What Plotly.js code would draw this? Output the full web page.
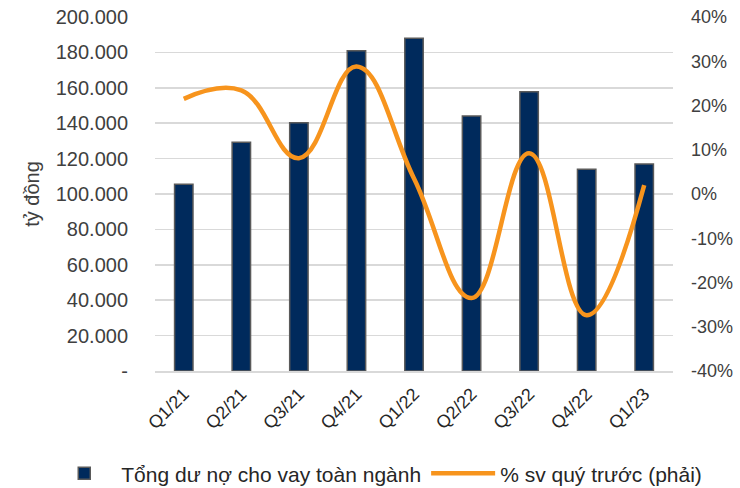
<!DOCTYPE html>
<html>
<head>
<meta charset="utf-8">
<script src="https://cdn.plot.ly/plotly-3.0.1.min.js"></script>
<style>html,body{margin:0;padding:0;background:#fff;}#chart{width:740px;height:488px;}</style>
</head>
<body>
<div id="chart"></div>
<script>
const quarters = ["Q1/21","Q2/21","Q3/21","Q4/21","Q1/22","Q2/22","Q3/22","Q4/22","Q1/23"];
const loans = [105500, 129300, 140200, 181000, 188000, 144000, 157700, 114000, 117000];
const qoqChange = [0.215, 0.234, 0.081, 0.288, 0.035, -0.235, 0.092, -0.274, 0.020];
const leftTickVals = [0,20000,40000,60000,80000,100000,120000,140000,160000,180000,200000];
const leftTickText = ["-","20.000","40.000","60.000","80.000","100.000","120.000","140.000","160.000","180.000","200.000"];
const rightTickVals = [-0.4,-0.3,-0.2,-0.1,0,0.1,0.2,0.3,0.4];
const rightTickText = ["-40%","-30%","-20%","-10%","0%","10%","20%","30%","40%"];

const font = "Liberation Sans, Arial, sans-serif";
const traces = [
  {
    type: "bar", x: quarters, y: loans, name: "Tổng dư nợ cho vay toàn ngành",
    marker: {color: "#002a5c", line: {color: "#5a5a5a", width: 1.5}},
    yaxis: "y"
  },
  {
    type: "scatter", mode: "lines", x: quarters, y: qoqChange, name: "% sv quý trước (phải)",
    line: {color: "#f7941d", width: 4.5, shape: "spline", smoothing: 1.2},
    yaxis: "y2"
  }
];
const layout = {
  width: 740, height: 488,
  margin: {l: 155, r: 67, t: 17, b: 117, autoexpand: false},
  paper_bgcolor: "#fff", plot_bgcolor: "#fff",
  font: {family: font, color: "#404040", size: 18},
  bargap: 0.68,
  showlegend: true,
  legend: {orientation: "h", xref: "paper", yref: "paper", x: -0.208, xanchor: "left", y: -0.29, yanchor: "middle",
           font: {size: 21, color: "#262626"}, itemwidth: 64, tracegroupgap: 0, bgcolor: "rgba(0,0,0,0)"},
  xaxis: {
    type: "category", tickangle: -45, tickfont: {size: 18, color: "#262626"}, ticklabelstandoff: 4,
    showgrid: false, showline: true, linecolor: "#d9d9d9", linewidth: 1.5, ticks: "", fixedrange: true
  },
  yaxis: {
    range: [0, 200000], tickvals: leftTickVals, ticktext: leftTickText,
    showgrid: true, gridcolor: "#d9d9d9", gridwidth: 1.5, zeroline: false,
    tickfont: {size: 20, color: "#404040"}, ticks: "", ticklen: 0, ticklabelstandoff: 26,
    title: {text: "tỷ đồng", font: {size: 20, color: "#404040"}, standoff: 10}
  },
  yaxis2: {
    overlaying: "y", side: "right", range: [-0.4, 0.4],
    tickvals: rightTickVals, ticktext: rightTickText, ticklabelstandoff: 17,
    showgrid: false, zeroline: false, tickfont: {size: 18, color: "#404040"}, ticks: ""
  }
};
Plotly.newPlot("chart", traces, layout, {displayModeBar: false, staticPlot: true});
</script>
</body>
</html>
